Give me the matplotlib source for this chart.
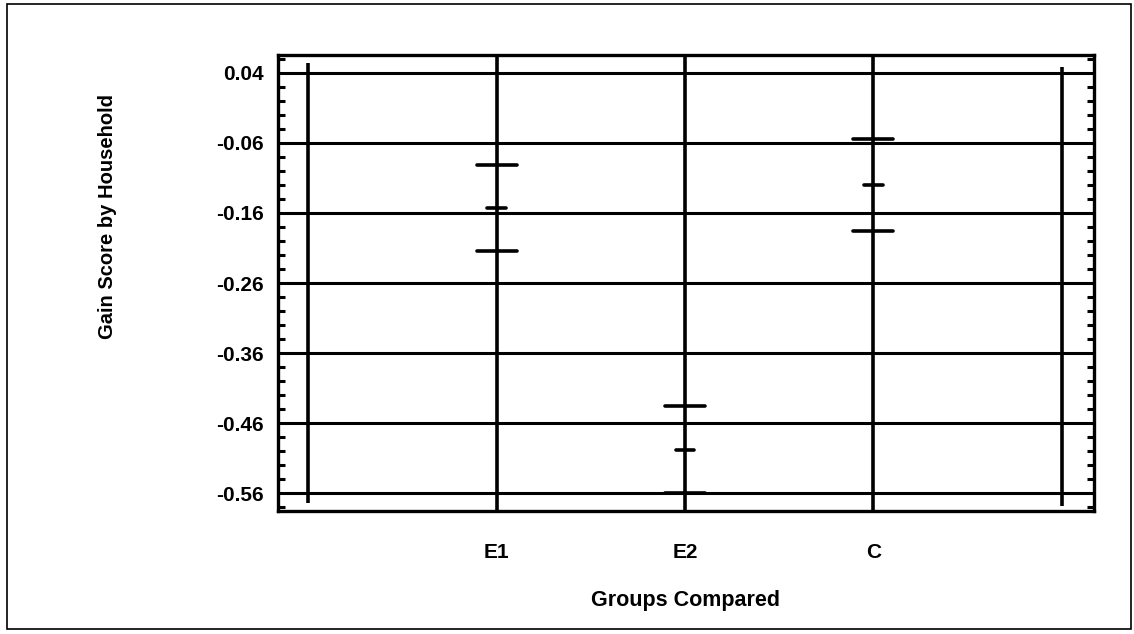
import matplotlib
matplotlib.use("Agg")
import matplotlib.pyplot as plt
from matplotlib.patches import Rectangle
from matplotlib.ticker import MultipleLocator

# Data
groups = ["E1", "E2", "C"]
upper = [-0.092, -0.435, -0.054]
mean = [-0.153, -0.498, -0.120]
lower = [-0.215, -0.559, -0.186]
ytick_vals = [0.04, -0.06, -0.16, -0.26, -0.36, -0.46, -0.56]
ytick_labels = ["0.04", "-0.06", "-0.16", "-0.26", "-0.36", "-0.46", "-0.56"]

plt.rcParams['font.family'] = ['Liberation Sans', 'DejaVu Sans']

fig = plt.figure(figsize=(11.34, 6.34), dpi=100)
ax = fig.add_axes([0.2451, 0.194, 0.7196, 0.7192])

xpos = list(range(1, len(groups) + 1))
ax.set_xlim(-0.16, 4.17)
ax.set_ylim(-0.585, 0.065)

lw = 2.2
for v in ytick_vals:
    ax.axhline(v, color='black', lw=lw, zorder=1)
for x in xpos:
    ax.axvline(x, color='black', lw=lw + 0.4, zorder=1)
ax.vlines([0], -0.574, 0.054, color='black', lw=lw + 0.4, zorder=1)
ax.vlines([4], -0.578, 0.048, color='black', lw=lw + 0.4, zorder=1)

ax.hlines(upper, [x - 0.106 for x in xpos], [x + 0.106 for x in xpos], color='black', lw=2.6, zorder=3, capstyle='round')
ax.hlines(lower, [x - 0.106 for x in xpos], [x + 0.106 for x in xpos], color='black', lw=2.6, zorder=3, capstyle='round')
ax.hlines(mean, [x - 0.05 for x in xpos], [x + 0.05 for x in xpos], color='black', lw=2.6, zorder=3, capstyle='round')

ax.set_yticks(ytick_vals)
ax.set_yticklabels(ytick_labels, fontsize=15, fontweight='bold')
ax.yaxis.set_minor_locator(MultipleLocator(0.02))
ax.tick_params(axis='y', which='major', length=0, pad=10)
ax.tick_params(axis='y', which='minor', direction='in', length=5, width=2.2, left=True, right=True)

ax.set_xticks(xpos)
ax.set_xticklabels(groups, fontsize=15, fontweight='bold')
ax.tick_params(axis='x', length=0, pad=23)

ax.set_xlabel("Groups Compared", fontsize=15.5, fontweight='bold', labelpad=20)
ax.set_ylabel("Gain Score by Household", fontsize=14.5, fontweight='bold', labelpad=0)
ax.yaxis.set_label_coords(-0.197, 0.645)

for s in ax.spines.values():
    s.set_linewidth(2.4)

fig.patches.append(Rectangle((0.006, 0.008), 0.991, 0.985, transform=fig.transFigure,
                             fill=False, edgecolor='black', lw=1.2))

fig.savefig("out.png", dpi=100)
